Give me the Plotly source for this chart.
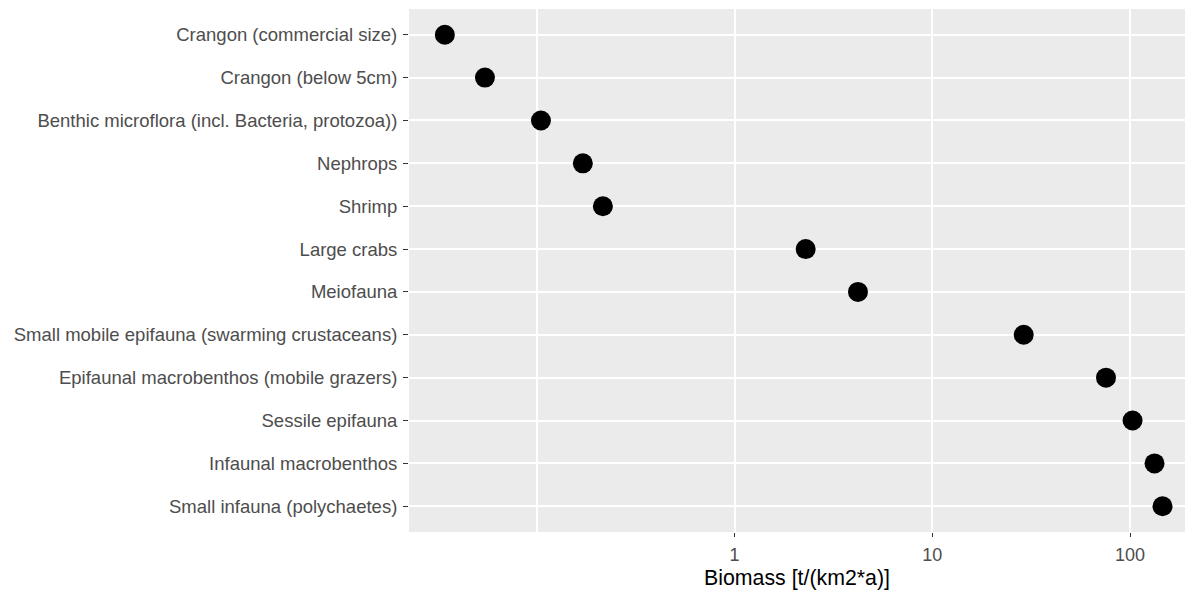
import plotly.graph_objects as go

groups = [
    "Crangon (commercial size)",
    "Crangon (below 5cm)",
    "Benthic microflora (incl. Bacteria, protozoa))",
    "Nephrops",
    "Shrimp",
    "Large crabs",
    "Meiofauna",
    "Small mobile epifauna (swarming crustaceans)",
    "Epifaunal macrobenthos (mobile grazers)",
    "Sessile epifauna",
    "Infaunal macrobenthos",
    "Small infauna (polychaetes)",
]
biomass = [0.0343, 0.0547, 0.105, 0.171, 0.216, 2.29, 4.21, 29.0, 75.6, 103.0, 133.0, 146.0]
x_tickvals = [1, 10, 100]
x_ticktext = ["1", "10", "100"]

fig = go.Figure(
    go.Scatter(
        x=biomass,
        y=groups,
        mode="markers",
        marker=dict(color="black", size=20),
        showlegend=False,
    )
)

fig.update_layout(
    width=1193,
    height=594,
    margin=dict(l=409, r=8, t=9, b=62),
    paper_bgcolor="white",
    plot_bgcolor="#EBEBEB",
    font=dict(family="Liberation Sans, Arial, sans-serif", color="#4D4D4D", size=18.5),
)

fig.update_xaxes(
    type="log",
    range=[-1.646, 2.278],
    tickvals=x_tickvals,
    ticktext=x_ticktext,
    ticks="outside",
    ticklen=4,
    tickwidth=1.3,
    tickcolor="#333333",
    showgrid=True,
    gridcolor="white",
    gridwidth=2,
    zeroline=False,
    showline=False,
    minor=dict(tickvals=[0.1], showgrid=True, gridcolor="white", gridwidth=2, ticks=""),
    tickfont=dict(size=18, color="#4D4D4D"),
    ticklabelstandoff=2,
    title=dict(text="Biomass [t/(km2*a)]", font=dict(size=21.3, color="black"), standoff=6),
)

fig.update_yaxes(
    type="category",
    categoryorder="array",
    categoryarray=groups,
    range=[11.6, -0.6],
    ticks="outside",
    ticklen=5,
    tickwidth=1.3,
    tickcolor="#333333",
    showgrid=True,
    gridcolor="white",
    gridwidth=2,
    zeroline=False,
    showline=False,
    tickfont=dict(size=18.5, color="#4D4D4D"),
    ticklabelstandoff=2,
)

fig.write_html("out.html")
